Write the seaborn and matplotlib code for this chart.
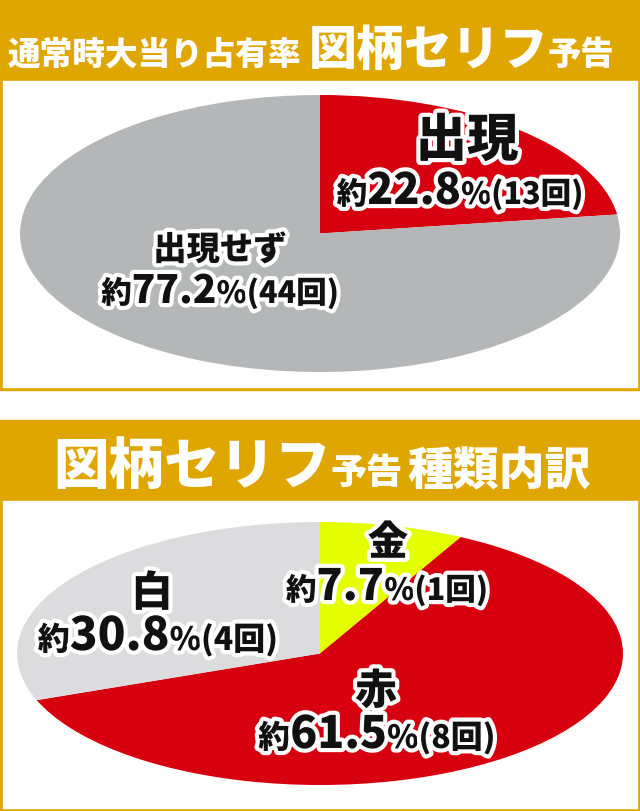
import matplotlib
matplotlib.use("Agg")
import matplotlib.pyplot as plt
import matplotlib.patheffects as pe
from matplotlib.patches import Rectangle
import seaborn as sns

# data
labels_top = ["出現", "出現せず"]
counts_top = [13, 44]
labels_bottom = ["金", "赤", "白"]
counts_bottom = [1, 8, 4]

GOLD = "#E0A600"
RED = "#D7000F"
GRAY = "#B5B6B8"
LIGHT = "#DCDCDE"
YELLOW = "#E4FF00"

sns.set_theme(style="white")
colors_top = sns.color_palette([RED, GRAY])
colors_bottom = sns.color_palette([YELLOW, RED, LIGHT])
plt.rcParams['font.family'] = ['Noto Sans CJK JP', 'DejaVu Sans']

W, H = 640, 811
fig = plt.figure(figsize=(6.4, 8.11), dpi=100)
fig.patch.set_facecolor("white")

def px_axes(x, y, w, h, z=1):
    return fig.add_axes([x / W, 1 - (y + h) / H, w / W, h / H], zorder=z)

# background: gold headers and framed boxes
bg = px_axes(0, 0, W, H, 0)
bg.set_xlim(0, W)
bg.set_ylim(H, 0)
bg.axis("off")
bg.add_patch(Rectangle((0, 0), 640, 390, color=GOLD))
bg.add_patch(Rectangle((3, 81), 634, 306, color="white"))
bg.add_patch(Rectangle((0, 420), 640, 391, color=GOLD))
bg.add_patch(Rectangle((3, 501), 634, 307, color="white"))

# pies stretched into ellipses
def ellipse_pie(vals, cols, box):
    ax = px_axes(*box, z=2)
    ax.pie(vals, colors=cols, startangle=90, counterclock=False,
           wedgeprops=dict(linewidth=0))
    ax.set_aspect("auto")
    ax.set_xlim(-1, 1)
    ax.set_ylim(-1, 1)
    ax.axis("off")
    return ax

ellipse_pie(counts_top, colors_top, (20, 95, 600, 277))
ellipse_pie(counts_bottom, colors_bottom, (17, 522, 606, 263))

# text layer
tx = px_axes(0, 0, W, H, 3)
tx.set_xlim(0, W)
tx.set_ylim(H, 0)
tx.axis("off")
fig.canvas.draw()
renderer = fig.canvas.get_renderer()

outline = [pe.withStroke(linewidth=6, foreground="white")]

def row(parts, x, y, ha="center", color="#111111", effects=outline):
    # parts: list of (text, fontsize); placed left to right on a common baseline
    items = []
    total = 0
    for s, fs in parts:
        t = tx.text(0, y, s, fontsize=fs, fontweight="heavy", color=color,
                    va="baseline", ha="left", path_effects=effects)
        w = t.get_window_extent(renderer).width
        items.append((t, w))
        total += w
    start = x - total / 2 if ha == "center" else x
    for t, w in items:
        t.set_x(start)
        start += w

def pct_row(count, total, x, y, s_small, s_big):
    p = f"{100 * count / total:.1f}"
    row([("約", s_small), (p, s_big), ("%", s_small), (f"({count}回)", s_small)], x, y)

# headers
row([("通常時大当り占有率", 23.5), (" ", 22), ("図柄セリフ", 34.5), ("予告", 24)],
    8, 65, ha="left", color="white", effects=None)
row([("図柄セリフ", 40), ("予告", 26), (" ", 16), ("種類内訳", 33)],
    322, 484, color="white", effects=None)

# top pie labels
n_top = sum(counts_top)
row([(labels_top[0], 37)], 467, 156)
pct_row(counts_top[0], n_top, 460, 204, 22, 31)
row([(labels_top[1], 24)], 220, 260)
pct_row(counts_top[1], n_top, 220, 303, 22, 28)

# bottom pie labels
n_bot = sum(counts_bottom)
row([(labels_bottom[0], 29)], 388, 555)
pct_row(counts_bottom[0], n_bot, 387, 600, 22, 31)
row([(labels_bottom[2], 30)], 152, 606)
pct_row(counts_bottom[2], n_bot, 158, 650, 23, 33)
row([(labels_bottom[1], 30)], 376, 704)
pct_row(counts_bottom[1], n_bot, 377, 748, 23, 32)

fig.savefig("out.png", dpi=100, facecolor="white")
